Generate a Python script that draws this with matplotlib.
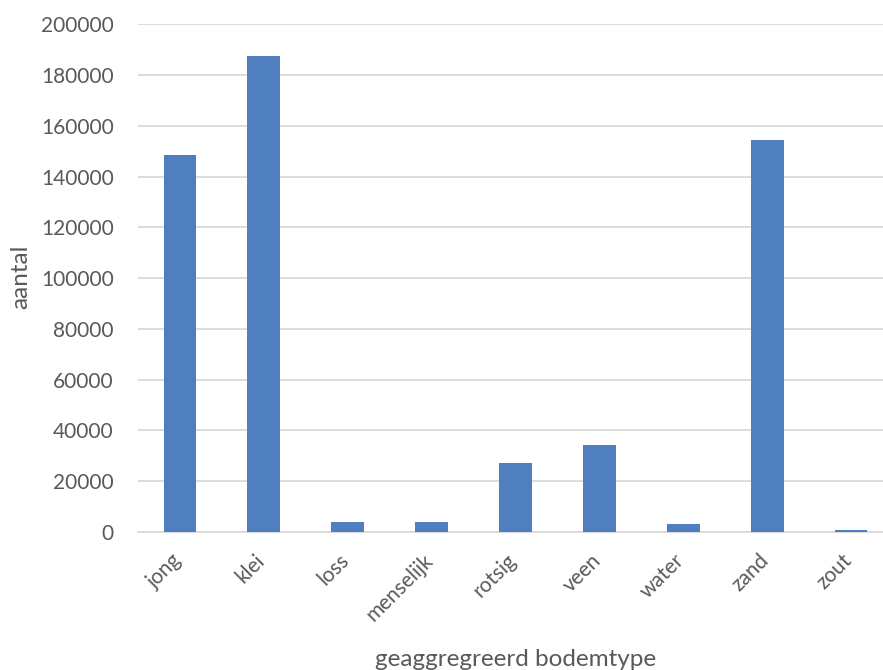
import numpy as np
import matplotlib.pyplot as plt
import matplotlib.transforms as mtransforms

# soil type counts
bodemtype = ['jong', 'klei', 'loss', 'menselijk', 'rotsig', 'veen', 'water', 'zand', 'zout']
aantal = [148400, 187500, 4000, 4000, 27300, 34300, 3200, 154300, 900]

plt.rcParams['font.family'] = ['Lato', 'DejaVu Sans']

fig = plt.figure(figsize=(8.83, 6.70), dpi=100)
# axes runs slightly past the right edge, like the cropped original
ax = fig.add_axes([138 / 883, 138 / 670, 755 / 883, 507.7 / 670])

x = np.arange(len(bodemtype))
ax.bar(x, aantal, width=0.39, color='#4f7fbe', zorder=3)

ax.set_xlim(-0.5, len(bodemtype) - 0.5)
ax.set_ylim(0, 200000)
ax.set_yticks(np.arange(0, 200001, 20000))
ax.yaxis.grid(True, color='#d9d9d9', linewidth=1.3, zorder=0)
ax.set_axisbelow(True)

for s in ['top', 'right', 'left']:
    ax.spines[s].set_visible(False)
ax.spines['bottom'].set_color('#d9d9d9')
ax.spines['bottom'].set_linewidth(1.3)

ax.tick_params(axis='both', length=0, colors='#595959', labelsize=15)
ax.tick_params(axis='y', pad=17.5)
ax.tick_params(axis='x', pad=13)
ax.set_xticks(x)
ax.set_xticklabels(bodemtype, rotation=45, ha='right', va='top', rotation_mode='anchor')
shift = mtransforms.ScaledTranslation(-9 / 100, 0, fig.dpi_scale_trans)
for lab in ax.get_xticklabels():
    lab.set_transform(lab.get_transform() + shift)

ax.set_ylabel('aantal', fontsize=17.5, color='#595959')
ax.yaxis.set_label_coords((21 - 138) / 755, (532 - 277) / 507.7)
ax.yaxis.label.set_va('center')
ax.set_xlabel('geaggregreerd bodemtype', fontsize=17.5, color='#595959')
ax.xaxis.set_label_coords(0.5, -(660 - 532) / 507.7)
ax.xaxis.label.set_va('center')

fig.savefig('out.png', dpi=100)
